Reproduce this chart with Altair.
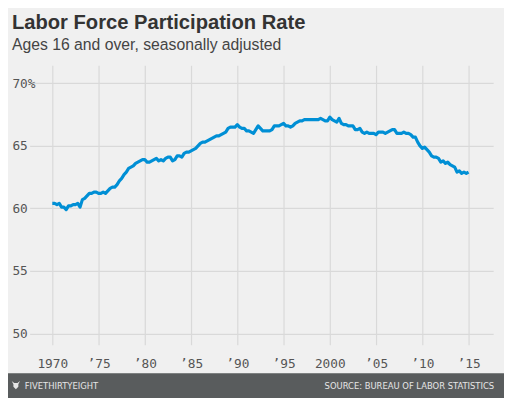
import altair as alt
import pandas as pd

# Quarterly readings of the labor force participation rate (%)
years = list(range(1970, 2015))
q_rates = [
    [60.4, 60.4, 60.3, 60.4],  # 1970
    [60.1, 60.1, 59.9, 60.2],  # 1971
    [60.2, 60.3, 60.3, 60.4],  # 1972
    [60.1, 60.7, 60.8, 61.0],  # 1973
    [61.2, 61.2, 61.3, 61.3],  # 1974
    [61.2, 61.2, 61.3, 61.2],  # 1975
    [61.4, 61.6, 61.7, 61.7],  # 1976
    [61.9, 62.2, 62.4, 62.7],  # 1977
    [62.9, 63.2, 63.3, 63.4],  # 1978
    [63.6, 63.7, 63.8, 63.9],  # 1979
    [63.9, 63.7, 63.7, 63.8],  # 1980
    [63.9, 64.0, 63.8, 63.9],  # 1981
    [63.8, 64.0, 64.1, 64.1],  # 1982
    [63.8, 63.9, 64.2, 64.2],  # 1983
    [64.1, 64.4, 64.5, 64.5],  # 1984
    [64.6, 64.7, 64.8, 65.0],  # 1985
    [65.2, 65.3, 65.3, 65.4],  # 1986
    [65.5, 65.6, 65.7, 65.8],  # 1987
    [65.8, 65.9, 66.0, 66.1],  # 1988
    [66.4, 66.5, 66.5, 66.5],  # 1989
    [66.7, 66.5, 66.4, 66.4],  # 1990
    [66.2, 66.2, 66.1, 66.0],  # 1991
    [66.3, 66.6, 66.4, 66.2],  # 1992
    [66.2, 66.2, 66.2, 66.3],  # 1993
    [66.6, 66.6, 66.6, 66.7],  # 1994
    [66.8, 66.6, 66.6, 66.5],  # 1995
    [66.6, 66.8, 66.9, 67.0],  # 1996
    [67.0, 67.1, 67.1, 67.1],  # 1997
    [67.1, 67.1, 67.1, 67.1],  # 1998
    [67.2, 67.1, 67.0, 67.0],  # 1999
    [67.3, 67.1, 67.0, 66.9],  # 2000
    [67.2, 66.8, 66.7, 66.7],  # 2001
    [66.6, 66.6, 66.6, 66.3],  # 2002
    [66.3, 66.4, 66.1, 66.0],  # 2003
    [66.1, 66.0, 66.0, 66.0],  # 2004
    [65.9, 66.1, 66.1, 66.1],  # 2005
    [66.0, 66.1, 66.2, 66.3],  # 2006
    [66.3, 66.0, 66.0, 66.0],  # 2007
    [66.1, 66.0, 66.0, 65.9],  # 2008
    [65.7, 65.7, 65.3, 65.0],  # 2009
    [64.8, 64.9, 64.7, 64.5],  # 2010
    [64.2, 64.1, 64.1, 64.0],  # 2011
    [63.7, 63.8, 63.6, 63.7],  # 2012
    [63.5, 63.4, 63.3, 62.9],  # 2013
    [63.0, 62.8, 62.9, 62.8],  # 2014
]
last_point = (2015.0, 62.9)

y_ticks = [50, 55, 60, 65, 70]
x_ticks = [1970, 1975, 1980, 1985, 1990, 1995, 2000, 2005, 2010, 2015]
x_tick_labels = ["1970", "\u201975", "\u201980", "\u201985", "\u201990",
                 "\u201995", "2000", "\u201905", "\u201910", "\u201915"]

rows = []
for y, qs in zip(years, q_rates):
    for i, v in enumerate(qs):
        rows.append({"t": y + i * 0.25, "rate": v})
rows.append({"t": last_point[0], "rate": last_point[1]})
df = pd.DataFrame(rows)

label_map = "{" + ",".join(f"{t}:'{l}'" for t, l in zip(x_ticks, x_tick_labels)) + "}"
y_label_expr = "datum.value == 70 ? '70%' : datum.label"

W, H = 471, 284
PAD_L, PAD_T = 22, 55
BG = "#f0f0f0"
GRID = "#d9d9d9"
FOOT_FONT = "'DejaVu Sans Condensed', 'Roboto Condensed', 'Liberation Sans Narrow', Roboto, sans-serif"

x_enc = alt.X(
    "t:Q",
    scale=alt.Scale(domain=[1967.55, 2017.66], nice=False, zero=False),
    axis=alt.Axis(
        values=x_ticks, labelExpr=f"{label_map}[datum.value]", title=None,
        grid=True, gridColor=GRID, gridWidth=1.2, domain=False, ticks=False,
        labelFont="DejaVu Sans Mono", labelFontSize=13, labelColor="#555555",
        labelPadding=13, labelFlush=False,
    ),
)
y_enc = alt.Y(
    "rate:Q",
    scale=alt.Scale(domain=[49.1, 71.45], nice=False, zero=False),
    axis=alt.Axis(
        values=y_ticks, labelExpr=y_label_expr, title=None,
        grid=True, gridColor=GRID, gridWidth=1.2, domain=False, ticks=False,
        labelFont="DejaVu Sans Mono", labelFontSize=13, labelColor="#555555",
        labelAlign="left", labelPadding=18, labelBaseline="middle",
    ),
)

line = alt.Chart(df).mark_line(color="#008fd5", strokeWidth=3.2, strokeJoin="round").encode(
    x=x_enc, y=y_enc
)

footer = alt.Chart(pd.DataFrame({"a": [0]})).mark_rect(color="#595c5d").encode(
    x=alt.value(-PAD_L), x2=alt.value(504 - PAD_L),
    y=alt.value(368 - PAD_T), y2=alt.value(400 - PAD_T),
)
footer_left = alt.Chart(pd.DataFrame({"a": [0]})).mark_text(
    text="FIVETHIRTYEIGHT", font=FOOT_FONT, fontWeight="normal",
    fontSize=9.5, color="#e6e6e6", align="left", baseline="alphabetic",
).encode(x=alt.value(25 - 8 - PAD_L), y=alt.value(392 - 8 - PAD_T))
footer_right = alt.Chart(pd.DataFrame({"a": [0]})).mark_text(
    text="SOURCE: BUREAU OF LABOR STATISTICS", font=FOOT_FONT,
    fontWeight="normal", fontSize=9.5, color="#e6e6e6", align="right", baseline="alphabetic",
).encode(x=alt.value(502 - 8 - PAD_L), y=alt.value(392 - 8 - PAD_T))
fox = alt.Chart(pd.DataFrame({"a": [0]})).mark_point(
    shape="M-1,-1 L-0.6,-0.2 L-0.6,0.4 L0,1 L0.6,0.4 L0.6,-0.2 L1,-1 L0.4,-0.5 L-0.4,-0.5 Z",
    filled=True, color="#e6e6e6", size=70, opacity=1,
).encode(x=alt.value(16 - 8 - PAD_L), y=alt.value(388 - 8 - PAD_T))

chart = alt.layer(line, footer, fox, footer_left, footer_right).properties(
    width=W, height=H,
    autosize=alt.AutoSizeParams(type="none"),
    padding={"left": PAD_L, "top": PAD_T, "right": 504 - PAD_L - W, "bottom": 390 - PAD_T - H},
    background=BG,
    title=alt.TitleParams(
        text="Labor Force Participation Rate",
        subtitle="Ages 16 and over, seasonally adjusted",
        anchor="start", frame="group", dx=-18, offset=12,
        font="Liberation Sans", fontSize=20.5, fontWeight="bold", color="#333333",
        subtitleFont="Liberation Sans", subtitleFontSize=16, subtitleColor="#444444",
        subtitlePadding=4,
    ),
).configure_view(stroke=None)

chart.save("out.html", embed_options={"renderer": "svg", "actions": False})
